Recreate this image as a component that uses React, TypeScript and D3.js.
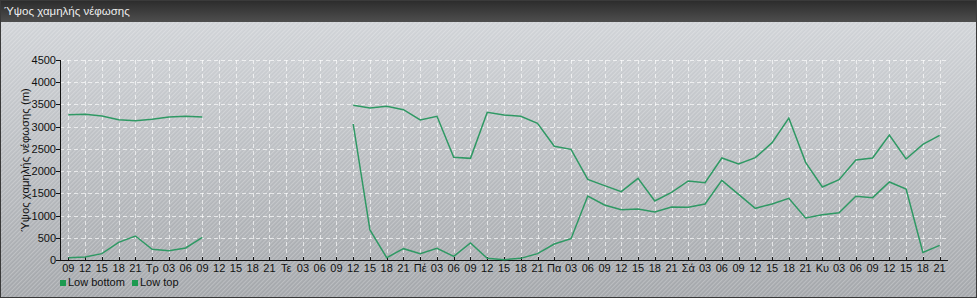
import React from "react";
import * as d3 from "d3";

const xLabels = ["09","12","15","18","21","Τρ","03","06","09","12","15","18","21","Τε","03","06","09","12","15","18","21","Πέ","03","06","09","12","15","18","21","Πα","03","06","09","12","15","18","21","Σά","03","06","09","12","15","18","21","Κυ","03","06","09","12","15","18","21"];

const lowBottom: (number | null)[] = [52,68,143,398,540,240,210,270,510,null,null,null,null,null,null,null,null,3060,675,52,255,143,262,82,382,37,8,37,143,360,480,1440,1238,1130,1148,1080,1193,1185,1260,1793,1478,1163,1260,1388,945,1020,1065,1433,1403,1755,1598,172,330];

const lowTop: (number | null)[] = [3270,3278,3240,3158,3135,3165,3218,3233,3218,null,null,null,null,null,null,null,null,3480,3420,3458,3383,3150,3233,2310,2287,3322,3262,3232,3075,2558,2490,1815,1673,1538,1838,1328,1523,1778,1740,2295,2160,2303,2640,3195,2198,1643,1808,2250,2295,2813,2273,2603,2805];

const yTicks = [0,500,1000,1500,2000,2500,3000,3500,4000,4500];
const seriesNames = ["Low bottom", "Low top"];
const title = "Ύψος χαμηλής νέφωσης";
const yTitle = "Ύψος χαμηλής νέφωσης (m)";

const W = 978, H = 300;
const left = 60, right = 948, top = 60, bottom = 260;
const lineColor = "#2f9964";
const font = "'Liberation Sans', Arial, sans-serif";

export default function App() {
  const x = d3.scaleLinear().domain([-0.5, xLabels.length - 0.5]).range([left, right]);
  const y = d3.scaleLinear().domain([0, 4500]).range([bottom, top]);
  const line = d3.line<number | null>()
    .defined(d => d !== null)
    .x((_, i) => x(i))
    .y(d => y(d as number));
  const series = [lowBottom, lowTop];
  return (
    <svg width={W} height={H} style={{ position: "absolute", left: 0, top: 0, display: "block" }} fontFamily={font}>
      <defs>
        <linearGradient id="bg" x1="0" y1="0" x2="0" y2="1">
          <stop offset="0" stopColor="#d0d3d7" />
          <stop offset="1" stopColor="#a3a6aa" />
        </linearGradient>
        <linearGradient id="tb" x1="0" y1="0" x2="0" y2="1">
          <stop offset="0" stopColor="#2b2b2b" />
          <stop offset="1" stopColor="#4e4e4e" />
        </linearGradient>
        <pattern id="stripes" width="3" height="3" patternUnits="userSpaceOnUse" patternTransform="rotate(45)">
          <rect x="0" y="0" width="1.2" height="3" fill="#ffffff" opacity="0.25" />
        </pattern>
      </defs>
      <rect x={0} y={0} width={W} height={H} fill="#ffffff" />
      <rect x={0} y={22} width={977} height={276} fill="url(#bg)" />
      <rect x={0} y={22} width={977} height={276} fill="url(#stripes)" />
      <rect x={0} y={0} width={977} height={22} fill="url(#tb)" />
      <rect x={0.5} y={0.5} width={976} height={297} fill="none" stroke="#3a3a3a" strokeWidth={1} />
      <text x={4} y={15} fill="#eeeeee" fontSize={11.5}>{title}</text>

      {/* grid */}
      <g stroke="#ffffff" strokeOpacity={0.65} strokeDasharray="4,3" strokeWidth={1}>
        {yTicks.filter(t => t > 0).map(t => (
          <line key={"h" + t} x1={left} x2={right} y1={Math.round(y(t)) + 0.5} y2={Math.round(y(t)) + 0.5} />
        ))}
        {xLabels.map((_, i) => (
          <line key={"v" + i} x1={Math.round(x(i)) + 0.5} x2={Math.round(x(i)) + 0.5} y1={top} y2={bottom} />
        ))}
      </g>

      {/* axes */}
      <line x1={left + 0.5} x2={left + 0.5} y1={top} y2={bottom + 0.5} stroke="#111" />
      <line x1={left} x2={right} y1={bottom + 0.5} y2={bottom + 0.5} stroke="#111" />
      {yTicks.map(t => (
        <g key={"yt" + t}>
          <line x1={left - 4} x2={left} y1={Math.round(y(t)) + 0.5} y2={Math.round(y(t)) + 0.5} stroke="#111" />
          <text x={left - 4} y={y(t) + 4} textAnchor="end" fontSize={11} fill="#111">{t}</text>
        </g>
      ))}
      {xLabels.map((l, i) => (
        <g key={"xt" + i}>
          <line x1={Math.round(x(i)) + 0.5} x2={Math.round(x(i)) + 0.5} y1={bottom - 3} y2={bottom} stroke="#111" />
          <text x={x(i)} y={bottom + 12} textAnchor="middle" fontSize={11} fill="#111">{l}</text>
        </g>
      ))}
      <text transform={`translate(${29},${(top + bottom) / 2}) rotate(-90)`} textAnchor="middle" fontSize={11.3} fill="#111">{yTitle}</text>

      {/* lines */}
      {series.map((s, k) => (
        <path key={"s" + k} d={line(s) || ""} fill="none" stroke={lineColor} strokeWidth={1.5} />
      ))}

      {/* legend */}
      {seriesNames.map((n, k) => {
        const lx = k === 0 ? 60 : 132;
        return (
          <g key={"lg" + k}>
            <rect x={lx} y={280} width={6} height={6} fill="#1c9a50" />
            <text x={lx + 8} y={286} fontSize={11} fill="#111">{n}</text>
          </g>
        );
      })}
    </svg>
  );
}
